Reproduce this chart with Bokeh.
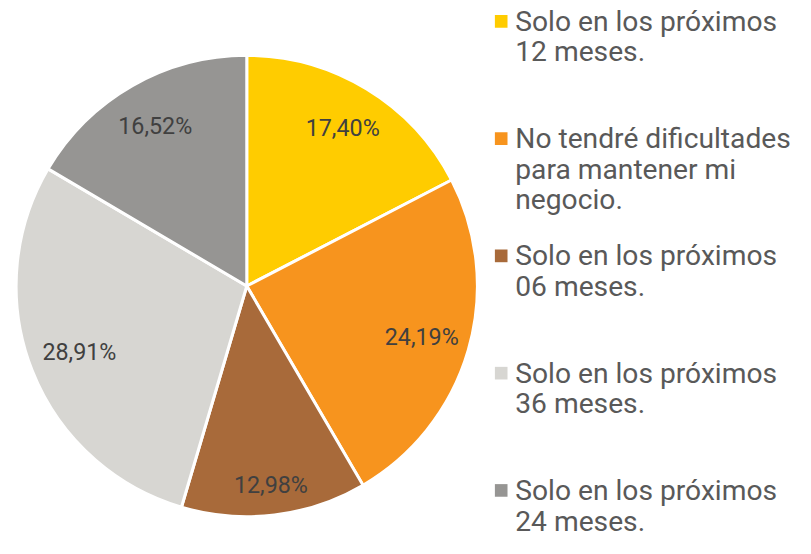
import math
from bokeh.plotting import figure
from bokeh.models import Range1d, ColumnDataSource
from bokeh.core.properties import value
from bokeh.embed import file_html
from bokeh.resources import INLINE

# ---- data ----
categories = [
    "Solo en los próximos\n12 meses.",
    "No tendré dificultades\npara mantener mi\nnegocio.",
    "Solo en los próximos\n06 meses.",
    "Solo en los próximos\n36 meses.",
    "Solo en los próximos\n24 meses.",
]
values = [17.40, 24.19, 12.98, 28.91, 16.52]
colors = ["#FFCC00", "#F7941E", "#A86A3A", "#D7D6D2", "#969593"]

# ---- layout (pixels) ----
W, H = 795, 538
K = H / 554.0          # scale of the reference layout into the figure
OX = 3.0
R_PX = 237.5 * K       # pie radius in px = 1 data unit
CX, CY = OX + 250.5 * K, 294.0 * K
label_r = [0.80, 0.79, 0.87, 0.78, 0.80]

def dx(px):
    return (px - CX) / R_PX

def dy(py):
    return (CY - py) / R_PX

p = figure(width=W, height=H, output_backend="svg", toolbar_location=None,
           x_range=Range1d(dx(0), dx(W)), y_range=Range1d(dy(H), dy(0)),
           min_border=0, outline_line_color=None, background_fill_color="white",
           border_fill_color="white")
p.axis.visible = False
p.grid.visible = False

total = sum(values)
starts, ends, lx, ly, ltxt = [], [], [], [], []
cum = 0.0
for i, v in enumerate(values):
    a0 = math.pi / 2 - 2 * math.pi * cum / total
    cum += v
    a1 = math.pi / 2 - 2 * math.pi * cum / total
    starts.append(a0)
    ends.append(a1)
    mid = (a0 + a1) / 2
    lx.append(label_r[i] * math.cos(mid))
    ly.append(label_r[i] * math.sin(mid))
    ltxt.append(f"{v:.2f}".replace(".", ",") + "%")

src = ColumnDataSource(dict(start=starts, end=ends, color=colors))
p.wedge(x=0, y=0, radius=1, start_angle="start", end_angle="end",
        direction="clock", fill_color="color", line_color="white",
        line_width=3, source=src)

p.text(x=lx, y=ly, text=ltxt, text_font=value("Roboto"),
       text_font_size=f"{24 * K:.1f}px", text_color="#404040",
       text_align="center", text_baseline="middle")

# ---- legend ----
leg_sq_x = OX + 512.5 * K
leg_txt_x = OX + 527.0 * K
leg_y0 = 21.5 * K
leg_step = 120.75 * K
line_h = 31.5 * K
sq_x, sq_y, tx, ty, tt = [], [], [], [], []
for i, c in enumerate(categories):
    yc = leg_y0 + i * leg_step
    sq_x.append(dx(leg_sq_x))
    sq_y.append(dy(yc))
    for j, line in enumerate(c.split("\n")):
        tx.append(dx(leg_txt_x))
        ty.append(dy(yc + j * line_h))
        tt.append(line)

p.scatter(x=sq_x, y=sq_y, marker="square", size=13 * K, fill_color=colors,
          line_color=None)
p.text(x=tx, y=ty, text=tt, text_font=value("Roboto"),
       text_font_size=f"{29 * K:.1f}px",
       text_color="#595959", text_align="left", text_baseline="middle")

open("out.html", "w").write(file_html(p, INLINE))
